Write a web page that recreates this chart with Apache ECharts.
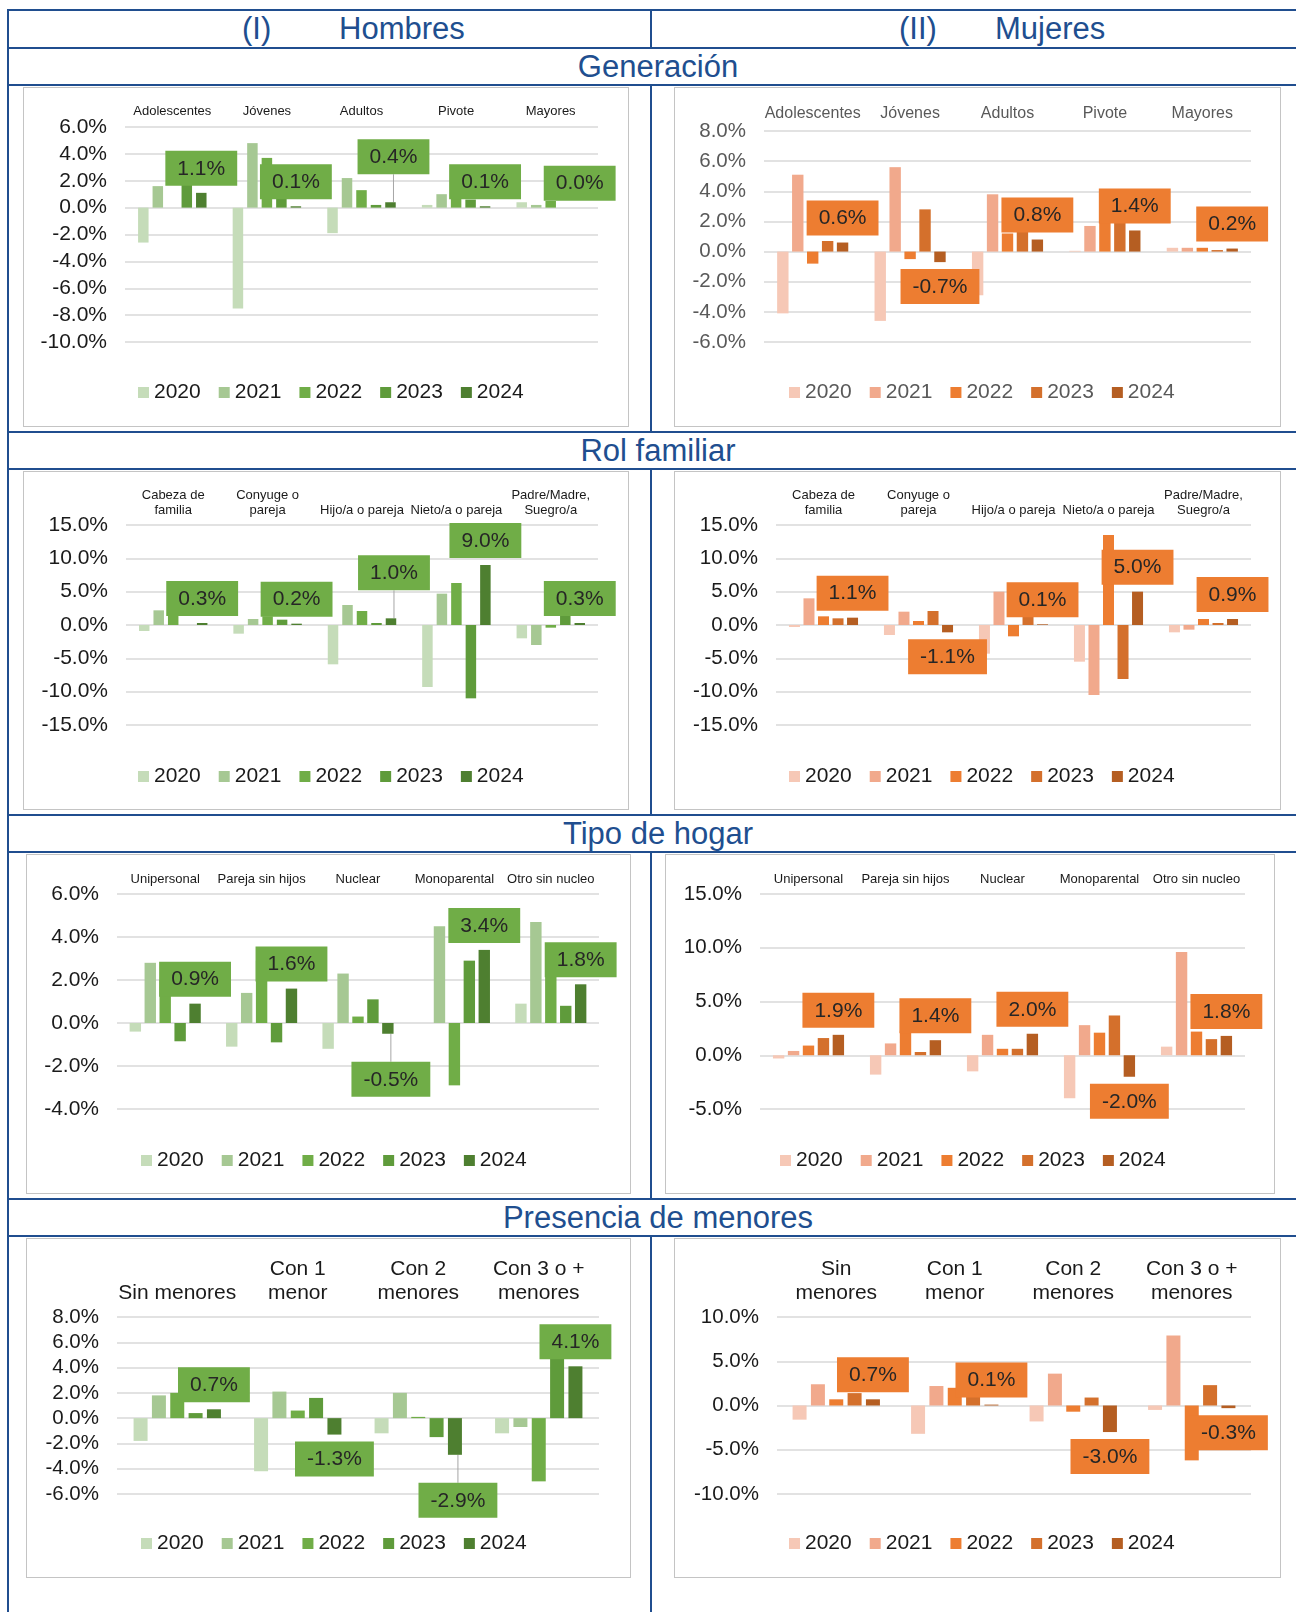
<!DOCTYPE html>
<html>
<head>
<meta charset="utf-8">
<script src="https://cdn.jsdelivr.net/npm/echarts@6/dist/echarts.min.js"></script>
<style>
body { margin: 0; background: #fff; width: 1296px; height: 1612px; position: relative; overflow: hidden; font-family: 'Liberation Sans', Arial, sans-serif; }
.ln { position: absolute; background: #204E8F; }
.tt { position: absolute; color: #204E8F; font-size: 31px; white-space: nowrap; }
.box { position: absolute; box-sizing: border-box; border: 1.5px solid #c4c4c4; }
.ch { position: absolute; }
</style>
</head>
<body>

<div class="tt" style="left:242px;top:10px;line-height:38px">(I)</div>
<div class="tt" style="left:339px;top:10px;line-height:38px">Hombres</div>
<div class="tt" style="left:899px;top:10px;line-height:38px">(II)</div>
<div class="tt" style="left:995px;top:10px;line-height:38px">Mujeres</div>
<div class="tt" style="left:358px;width:600px;text-align:center;top:48px;line-height:37px">Generación</div>
<div class="tt" style="left:358px;width:600px;text-align:center;top:432px;line-height:37px">Rol familiar</div>
<div class="tt" style="left:358px;width:600px;text-align:center;top:815px;line-height:37px">Tipo de hogar</div>
<div class="tt" style="left:358px;width:600px;text-align:center;top:1199px;line-height:37px">Presencia de menores</div>

<div class="box" style="left:23px;top:87px;width:606px;height:340px"></div>
<div class="box" style="left:674px;top:87px;width:607px;height:340px"></div>
<div class="box" style="left:23px;top:471px;width:606px;height:339px"></div>
<div class="box" style="left:674px;top:471px;width:607px;height:339px"></div>
<div class="box" style="left:26px;top:854px;width:605px;height:340px"></div>
<div class="box" style="left:665px;top:854px;width:610px;height:340px"></div>
<div class="box" style="left:26px;top:1238px;width:605px;height:340px"></div>
<div class="box" style="left:674px;top:1238px;width:607px;height:340px"></div>

<div id="p1" class="ch" style="left:23px;top:87px;width:606px;height:340px"></div>
<div id="p2" class="ch" style="left:674px;top:87px;width:607px;height:340px"></div>
<div id="p3" class="ch" style="left:23px;top:471px;width:606px;height:339px"></div>
<div id="p4" class="ch" style="left:674px;top:471px;width:607px;height:339px"></div>
<div id="p5" class="ch" style="left:26px;top:854px;width:605px;height:340px"></div>
<div id="p6" class="ch" style="left:665px;top:854px;width:610px;height:340px"></div>
<div id="p7" class="ch" style="left:26px;top:1238px;width:605px;height:340px"></div>
<div id="p8" class="ch" style="left:674px;top:1238px;width:607px;height:340px"></div>

<script>
var anios = ['2020', '2021', '2022', '2023', '2024'];

var catGen = ['Adolescentes', 'Jóvenes', 'Adultos', 'Pivote', 'Mayores'];
var catRol = ['Cabeza de\nfamilia', 'Conyuge o\npareja', 'Hijo/a o pareja', 'Nieto/a o pareja', 'Padre/Madre,\nSuegro/a'];
var catTipo = ['Unipersonal', 'Pareja sin hijos', 'Nuclear', 'Monoparental', 'Otro sin nucleo'];
var catPresH = ['Sin menores', 'Con 1\nmenor', 'Con 2\nmenores', 'Con 3 o +\nmenores'];
var catPresM = ['Sin\nmenores', 'Con 1\nmenor', 'Con 2\nmenores', 'Con 3 o +\nmenores'];

// filas: 2020, 2021, 2022, 2023, 2024 (variacion en %)
var hGen = [
    [-2.6, -7.5, -1.9, 0.2, 0.4],
    [1.6, 4.8, 2.2, 1.0, 0.2],
    [0.0, 3.7, 1.3, 1.9, 0.5],
    [2.4, 0.9, 0.2, 0.6, 0.0],
    [1.1, 0.1, 0.4, 0.1, 0.0]
];
var mGen = [
    [-4.1, -4.6, -2.9, 0.05, 0.25],
    [5.1, 5.6, 3.8, 1.7, 0.25],
    [-0.8, -0.5, 1.2, 1.9, 0.25],
    [0.7, 2.8, 1.5, 2.2, 0.1],
    [0.6, -0.7, 0.8, 1.4, 0.2]
];
var hRol = [
    [-0.9, -1.3, -5.9, -9.3, -2.0],
    [2.2, 0.9, 3.0, 4.7, -3.0],
    [1.5, 1.3, 2.1, 6.3, -0.4],
    [0.0, 0.8, 0.3, -11.0, 1.5],
    [0.3, 0.2, 1.0, 9.0, 0.3]
];
var mRol = [
    [-0.3, -1.5, -4.3, -5.5, -1.1],
    [4.0, 2.0, 5.0, -10.5, -0.7],
    [1.3, 0.6, -1.7, 13.5, 0.9],
    [1.0, 2.1, 1.6, -8.1, 0.3],
    [1.1, -1.1, 0.1, 5.0, 0.9]
];
var hTipo = [
    [-0.4, -1.1, -1.2, 0.0, 0.9],
    [2.8, 1.4, 2.3, 4.5, 4.7],
    [2.0, 2.9, 0.3, -2.9, 2.9],
    [-0.85, -0.9, 1.1, 2.9, 0.8],
    [0.9, 1.6, -0.5, 3.4, 1.8]
];
var mTipo = [
    [-0.3, -1.8, -1.5, -4.0, 0.8],
    [0.4, 1.1, 1.9, 2.8, 9.6],
    [0.9, 2.3, 0.6, 2.1, 2.2],
    [1.6, 0.3, 0.6, 3.7, 1.5],
    [1.9, 1.4, 2.0, -2.0, 1.8]
];
var hPres = [
    [-1.8, -4.2, -1.2, -1.2],
    [1.8, 2.1, 2.0, -0.7],
    [2.0, 0.6, 0.1, -5.0],
    [0.4, 1.6, -1.5, 4.9],
    [0.7, -1.3, -2.9, 4.1]
];
var mPres = [
    [-1.6, -3.2, -1.8, -0.5],
    [2.4, 2.2, 3.6, 7.9],
    [0.7, 2.0, -0.7, -6.2],
    [1.4, 1.3, 0.9, 2.3],
    [0.7, 0.1, -3.0, -0.3]
];

var verdes = ['#C5DCB9', '#A6C893', '#70AD47', '#5F9B3B', '#4E7F30'];
var naranjas = ['#F6C8B6', '#F1A98C', '#ED7D31', '#D4702C', '#B55E22'];

var F = "'Liberation Sans', Arial, sans-serif";
var NEGRO = '#1a1a1a';
var GRIS = '#595959';

// lineas de la tabla
function linea(x, y, w, h) {
    var d = document.createElement('div');
    d.className = 'ln';
    d.style.left = x + 'px';
    d.style.top = y + 'px';
    d.style.width = w + 'px';
    d.style.height = h + 'px';
    document.body.appendChild(d);
}
[10, 48, 85, 432, 469, 815, 852, 1199, 1236].forEach(function (y) {
    linea(7, y - 1, 1300, 2);
});
linea(7, 9, 2, 1603);
[[9, 48], [85, 432], [469, 815], [852, 1199], [1236, 1612]].forEach(function (s) {
    linea(650, s[0], 2, s[1] - s[0]);
});

function crearPanel(p) {
    var chart = echarts.init(document.getElementById(p.id));
    var series = p.datos.map(function (fila, k) {
        return {
            name: anios[k],
            type: 'bar',
            data: fila,
            barWidth: p.barW,
            barGap: p.gap,
            itemStyle: { color: p.colores[k] }
        };
    });

    var ult = series[4];
    ult.data = p.datos[4].map(function (v, i) {
        return {
            value: v,
            label: { position: v >= 0 ? 'top' : 'bottom' },
            labelLine: { show: p.guias.indexOf(i) >= 0 }
        };
    });
    ult.label = {
        show: true,
        distance: 7,
        formatter: function (a) { return a.value.toFixed(1) + '%'; },
        fontSize: 21,
        fontFamily: F,
        color: '#262626',
        backgroundColor: p.colores[2],
        padding: [7, 12, 6, 12],
        lineHeight: 22
    };
    ult.labelLine = { lineStyle: { color: '#A6A6A6', width: 1 } };
    ult.labelLayout = function (a) {
        if (p.guias.indexOf(a.dataIndex) < 0) return {};
        var v = p.datos[4][a.dataIndex];
        return {
            x: a.labelRect.x + 3,
            y: a.labelRect.y + (v >= 0 ? -21 : 21),
            align: 'left',
            verticalAlign: 'top'
        };
    };

    chart.setOption({
        animation: false,
        textStyle: { fontFamily: F },
        grid: { left: p.grid[0], top: p.grid[1], width: p.grid[2], height: p.grid[3], outerBoundsMode: 'none' },
        legend: {
            data: anios,
            top: p.legTop,
            left: 110,
            icon: 'rect',
            itemWidth: 11,
            itemHeight: 11,
            itemGap: 18,
            textStyle: { fontSize: 21, color: p.txt, fontFamily: F }
        },
        xAxis: {
            type: 'category',
            data: p.cats,
            position: 'top',
            axisLine: { show: false, onZero: false },
            axisTick: { show: false },
            axisLabel: { interval: 0, fontSize: p.catFont, lineHeight: p.catLH, color: p.txt, margin: p.catMargin, fontFamily: F }
        },
        yAxis: {
            type: 'value',
            min: p.y[0],
            max: p.y[1],
            interval: p.y[2],
            axisLine: { show: false },
            axisTick: { show: false },
            axisLabel: {
                formatter: function (v) { return v.toFixed(1) + '%'; },
                fontSize: p.yFont,
                color: p.txt,
                margin: 18,
                fontFamily: F
            },
            splitLine: { lineStyle: { color: '#D9D9D9', width: 1.5 } }
        },
        series: series
    });
}

var paneles = [
    { id: 'p1', datos: hGen, cats: catGen, colores: verdes, grid: [102, 40, 473, 215], y: [-10, 6, 2], barW: 10.5, gap: '38%', catFont: 13, catLH: 15, catMargin: 8, yFont: 21, txt: NEGRO, legTop: 290, guias: [2] },
    { id: 'p2', datos: mGen, cats: catGen, colores: naranjas, grid: [90, 44, 487, 211], y: [-6, 8, 2], barW: 11.4, gap: '31%', catFont: 16, catLH: 18, catMargin: 8, yFont: 20.5, txt: GRIS, legTop: 290, guias: [] },
    { id: 'p3', datos: hRol, cats: catRol, colores: verdes, grid: [103, 54, 472, 200], y: [-15, 15, 5], barW: 10.5, gap: '38%', catFont: 13, catLH: 15, catMargin: 7, yFont: 21, txt: NEGRO, legTop: 290, guias: [2] },
    { id: 'p4', datos: mRol, cats: catRol, colores: naranjas, grid: [102, 54, 475, 200], y: [-15, 15, 5], barW: 11, gap: '32%', catFont: 13, catLH: 15, catMargin: 7, yFont: 20.5, txt: NEGRO, legTop: 290, guias: [] },
    { id: 'p5', datos: hTipo, cats: catTipo, colores: verdes, grid: [91, 40, 482, 215], y: [-4, 6, 2], barW: 11.4, gap: '31%', catFont: 13, catLH: 15, catMargin: 7, yFont: 21, txt: NEGRO, legTop: 291, guias: [2] },
    { id: 'p6', datos: mTipo, cats: catTipo, colores: naranjas, grid: [95, 40, 485, 215], y: [-5, 15, 5], barW: 11.4, gap: '31%', catFont: 13, catLH: 15, catMargin: 7, yFont: 20.5, txt: NEGRO, legTop: 291, guias: [] },
    { id: 'p7', datos: hPres, cats: catPresH, colores: verdes, grid: [91, 79, 482, 177], y: [-6, 8, 2], barW: 14, gap: '31%', catFont: 21, catLH: 24, catMargin: 12, yFont: 20.5, txt: NEGRO, legTop: 290, guias: [2] },
    { id: 'p8', datos: mPres, cats: catPresM, colores: naranjas, grid: [103, 79, 474, 177], y: [-10, 10, 5], barW: 14, gap: '31%', catFont: 21, catLH: 24, catMargin: 12, yFont: 20.5, txt: NEGRO, legTop: 290, guias: [] }
];

paneles.forEach(crearPanel);
</script>
</body>
</html>
